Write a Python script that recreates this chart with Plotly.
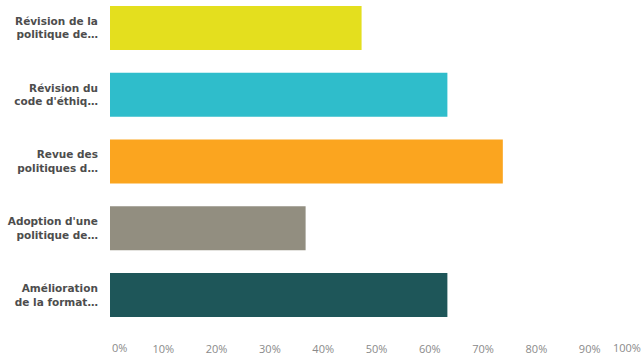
import plotly.graph_objects as go

# Survey answer options (abbreviated as displayed) and share of respondents (%)
categories = [
    "Révision de la<br>politique de…",
    "Révision du<br>code d'éthiq…",
    "Revue des<br>politiques d…",
    "Adoption d'une<br>politique de…",
    "Amélioration<br>de la format…",
]
values = [47.2, 63.3, 73.7, 36.7, 63.3]
bar_colors = ["#E4DF1E", "#2FBDCB", "#FBA51F", "#928E80", "#1E5659"]
x_ticks = [10, 20, 30, 40, 50, 60, 70, 80, 90]
x_tick_labels = [f"{v}%" for v in x_ticks]

positions = list(range(len(categories)))

axis_font = dict(family="Open Sans, Arial, sans-serif", size=11, color="#8a8a8a")

fig = go.Figure(
    go.Bar(
        x=values,
        y=positions,
        orientation="h",
        marker=dict(color=bar_colors, line=dict(width=0)),
        width=0.66,
        hoverinfo="skip",
    )
)

fig.update_layout(
    width=644,
    height=358,
    margin=dict(l=110, r=1, t=0, b=36),
    paper_bgcolor="white",
    plot_bgcolor="white",
    showlegend=False,
    xaxis=dict(
        range=[0, 100],
        tickvals=x_ticks,
        ticktext=x_tick_labels,
        showgrid=False,
        zeroline=False,
        showline=False,
        ticks="outside",
        ticklen=17,
        tickcolor="rgba(0,0,0,0)",
        tickfont=axis_font,
        fixedrange=True,
    ),
    yaxis=dict(
        range=[4.404, -0.419],
        tickvals=positions,
        ticktext=[f"<b>{c}</b>" for c in categories],
        showgrid=False,
        zeroline=False,
        showline=False,
        ticks="outside",
        ticklen=9,
        tickcolor="rgba(0,0,0,0)",
        tickfont=dict(family="DejaVu Sans, Arial, sans-serif", size=10.5, color="#4d4d4d"),
        fixedrange=True,
    ),
    # End labels of the percentage scale, kept inside the plot width
    annotations=[
        dict(text="0%", xref="paper", yref="paper", x=0, y=0, xanchor="left",
             yanchor="top", yshift=-16, showarrow=False, font=axis_font),
        dict(text="100%", xref="paper", yref="paper", x=1, y=0, xanchor="right",
             yanchor="top", yshift=-16, showarrow=False, font=axis_font),
    ],
)

fig.write_html("out.html")
